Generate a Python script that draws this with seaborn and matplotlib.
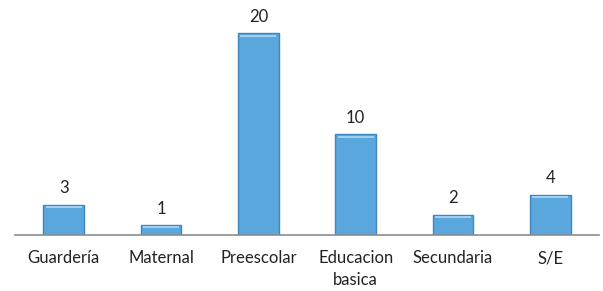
import matplotlib.pyplot as plt
import pandas as pd
import seaborn as sns

categories = ["Guardería", "Maternal", "Preescolar", "Educacion\nbasica", "Secundaria", "S/E"]
values = [3, 1, 20, 10, 2, 4]


def main() -> None:
    sns.set_theme(style="white")
    plt.rcParams["font.family"] = ["Lato", "DejaVu Sans"]
    df = pd.DataFrame({"categoria": categories, "valor": values})

    fig = plt.figure(figsize=(6.03, 2.91), dpi=100)
    ax = fig.add_axes([15 / 603, 56 / 291, 584 / 603, 225 / 291])

    sns.barplot(
        data=df,
        x="categoria",
        y="valor",
        color="#5aa7de",
        saturation=1,
        width=0.42,
        edgecolor="#3f86bd",
        linewidth=1.0,
        ax=ax,
    )

    # lighter bevel along the top of each bar
    for patch in ax.patches:
        x0, w, h = patch.get_x(), patch.get_width(), patch.get_height()
        ax.add_patch(plt.Rectangle((x0 + w * 0.06, h - min(0.35, h * 0.3)), w * 0.88,
                                   min(0.35, h * 0.3) * 0.6, color="#9fd0f2",
                                   linewidth=0, zorder=3))

    for container in ax.containers:
        ax.bar_label(container, fmt="%d", padding=6, fontsize=12, color="#222222")

    ax.set_xlim(-0.5, 5.5)
    ax.set_ylim(0, 22.3)
    ax.set_xlabel("")
    ax.set_ylabel("")
    ax.set_yticks([])
    ax.tick_params(axis="x", length=0, pad=11, labelsize=12, labelcolor="#222222")
    for label in ax.get_xticklabels():
        label.set_linespacing(1.45)
    for side in ["top", "left", "right"]:
        ax.spines[side].set_visible(False)
    ax.spines["bottom"].set_color("#8c8c8c")
    ax.spines["bottom"].set_linewidth(1.2)

    fig.savefig("out.png", dpi=100)
    plt.close(fig)


if __name__ == "__main__":
    main()
